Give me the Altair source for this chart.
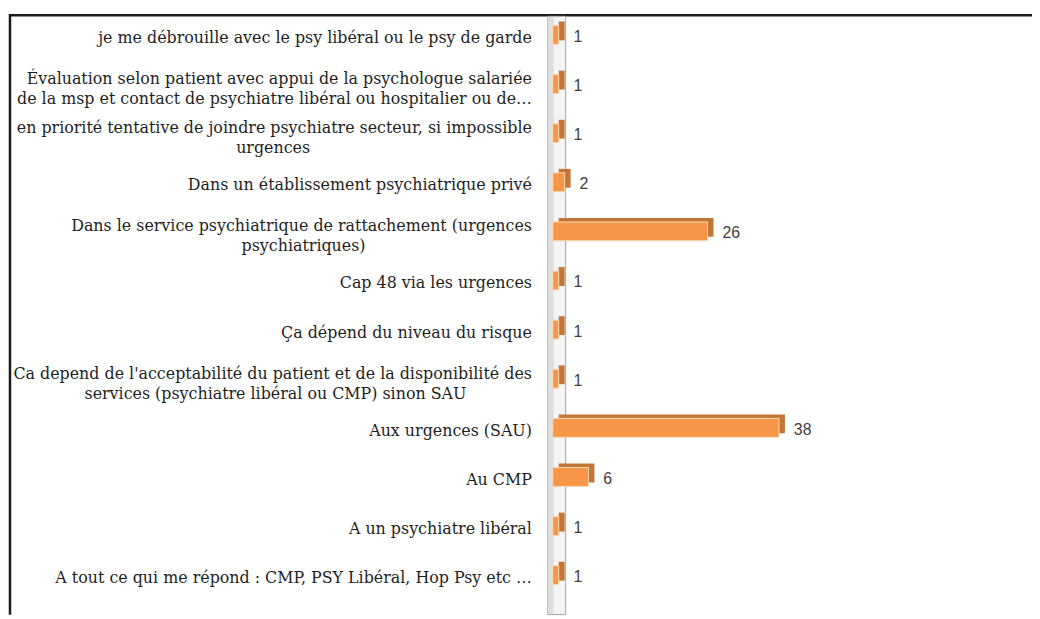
import altair as alt
import pandas as pd

# Category labels (first line / second line of wrapped labels), top to bottom
line1 = [
    "je me débrouille avec le psy libéral ou le psy de garde",
    "Évaluation  selon patient  avec appui  de la psychologue salariée",
    "en priorité tentative de joindre psychiatre secteur, si impossible",
    "Dans un établissement psychiatrique privé",
    "Dans le service psychiatrique de rattachement (urgences",
    "Cap 48 via les urgences",
    "Ça dépend du niveau du risque",
    "Ca depend de l'acceptabilité du patient et de la disponibilité des",
    "Aux urgences (SAU)",
    "Au CMP",
    "A un psychiatre libéral",
    "A tout ce qui me répond : CMP, PSY Libéral, Hop Psy etc …",
]
line2 = [
    "",
    "de la msp et contact  de psychiatre libéral ou hospitalier  ou de…",
    "urgences",
    "",
    "psychiatriques)",
    "",
    "",
    "services (psychiatre libéral ou CMP) sinon SAU",
    "",
    "",
    "",
    "",
]
values = [1, 1, 1, 2, 26, 1, 1, 1, 38, 6, 1, 1]

# rough DejaVu Serif advance widths (em), used only to centre wrapped lines
_NARROW = {" ": 0.318, "i": 0.32, "l": 0.32, "j": 0.31, "t": 0.40, "f": 0.37,
           "r": 0.48, "s": 0.51, "(": 0.39, ")": 0.39, "'": 0.28, ",": 0.32,
           ".": 0.32, ":": 0.34, "m": 0.95, "…": 1.0}


def est_width(s):
    w = 0.0
    for c in s:
        if c in _NARROW:
            w += _NARROW[c]
        elif c.isupper():
            w += 0.75
        else:
            w += 0.60
    return w


def make_label(a, b):
    if not b:
        return a
    NB = 0.318
    wa, wb = est_width(a), est_width(b)
    if wa >= wb:
        b = b + "\u00a0" * round((wa - wb) / 2 / NB) + "\u200c"
    else:
        a = a + "\u00a0" * round((wb - wa) / 2 / NB) + "\u200c"
    return a + "|" + b


labels = [make_label(a, b) for a, b in zip(line1, line2)]
df = pd.DataFrame({"cat": labels, "val": values})
one = pd.DataFrame({"k": [0]})

W, H = 480, 594
PAD_L, PAD_T, PAD_R, PAD_B = 549, 0, 3, 15
SERIF = "DejaVu Serif"

yenc = alt.Y(
    "cat:N",
    sort=labels,
    scale=alt.Scale(paddingInner=0, paddingOuter=0),
    axis=None,
)
xenc = alt.X("val:Q", scale=alt.Scale(domain=[0, 80]), axis=None)

base = alt.Chart(df)

# frame lines
frame_top = alt.Chart(one).mark_rule(color="#1a1a1a", strokeWidth=2.5).encode(
    x=alt.value(-PAD_L + 1), x2=alt.value(W + PAD_R), y=alt.value(5)
)
frame_left = alt.Chart(one).mark_rule(color="#1a1a1a", strokeWidth=2.5).encode(
    x=alt.value(-547), y=alt.value(4), y2=alt.value(H + PAD_B)
)

# 3D wall behind the bars
wall = alt.Chart(one).mark_rect(fill="#f4f4f4", stroke="#a6a6a6", strokeWidth=1).encode(
    x=alt.value(-5), x2=alt.value(13), y=alt.value(6), y2=alt.value(609)
)
wall_shade = alt.Chart(one).mark_rect(fill="#dedede").encode(
    x=alt.value(-4), x2=alt.value(1), y=alt.value(7), y2=alt.value(608)
)

depth = base.mark_bar(
    color="#c47636", size=19, xOffset=6, x2Offset=6, yOffset=-4, y2Offset=-4
).encode(y=yenc, x=xenc)

front = base.mark_bar(
    color="#f79646", size=19, stroke="#fcd9b8", strokeWidth=1
).encode(y=yenc, x=xenc)

values_text = base.mark_text(
    align="left", baseline="middle", dx=15, dy=2,
    font="Liberation Sans", fontSize=16, color="#404040"
).encode(y=yenc, x=xenc, text="val:Q")

label_style = dict(
    align="right", baseline="middle", font=SERIF, fontSize=16,
    color="#1e1e1e", lineBreak="|", lineHeight=20,
)
labels_single = base.transform_filter("indexof(datum.cat, '|') < 0").mark_text(
    dy=3, **label_style
).encode(y=yenc, x=alt.value(-21), text="cat:N")
labels_double = base.transform_filter("indexof(datum.cat, '|') >= 0").mark_text(
    dy=-5, **label_style
).encode(y=yenc, x=alt.value(-21), text="cat:N")

chart = alt.layer(
    frame_top, frame_left, wall, wall_shade, depth, front, values_text,
    labels_single, labels_double,
).properties(
    width=W, height=H,
    autosize=alt.AutoSizeParams(type="none"),
    padding={"left": PAD_L, "top": PAD_T, "right": PAD_R, "bottom": PAD_B},
).configure_view(stroke=None)

chart.save("out.html", embed_options={"renderer": "svg", "actions": False})
